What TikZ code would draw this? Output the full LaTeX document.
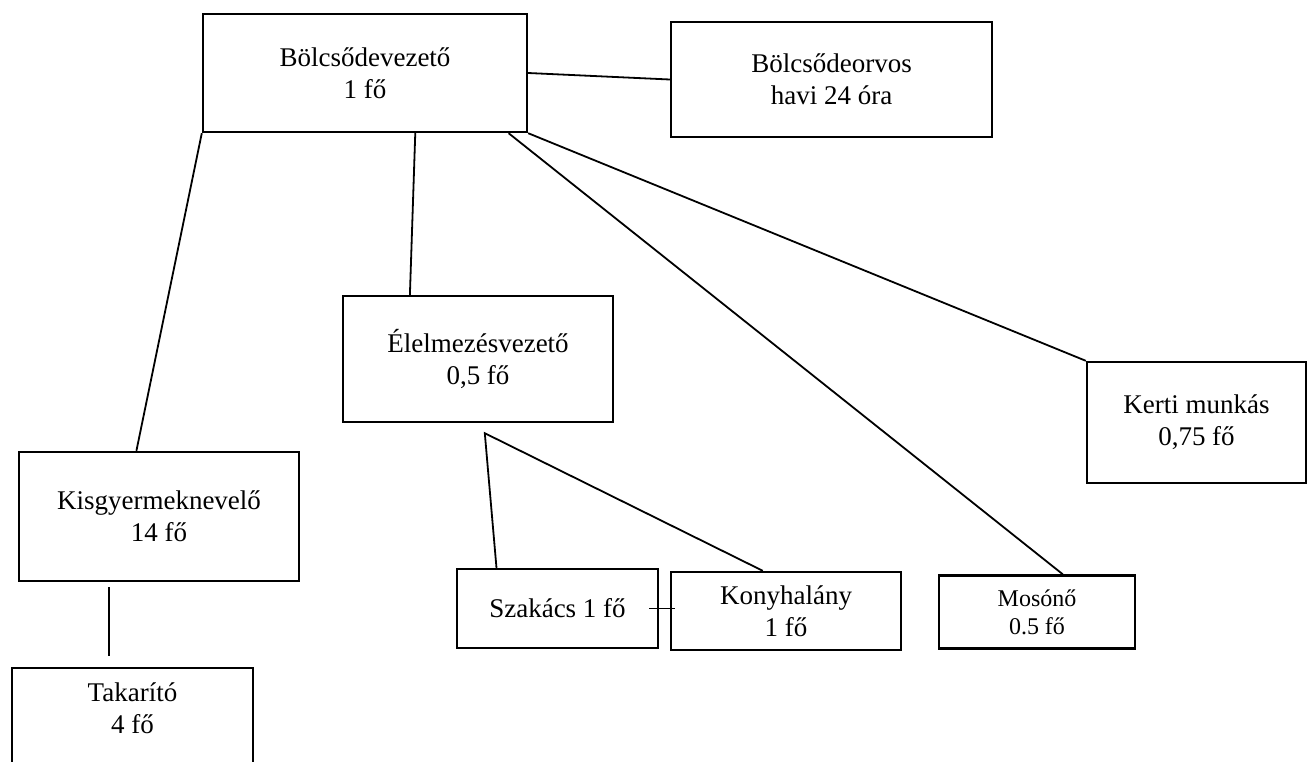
\documentclass[tikz,border=0pt]{standalone}
\usepackage{fontspec}
\setmainfont{Liberation Serif}
\usepackage{tikz}
\usetikzlibrary{positioning,calc}
\tikzset{
  staff/.style={draw, line width=1.2pt, rectangle, inner sep=0pt, align=center, font=\fontsize{13.5}{16}\selectfont},
  small/.style={staff, font=\fontsize{12}{14}\selectfont},
  link/.style={line width=0.9pt},
}

\begin{document}
\begin{tikzpicture}[x=0.5pt, y=-0.5pt]
    \fill[white] (0,0) rectangle (1307,761);
    \useasboundingbox (0,0) rectangle (1307,761);

    % top level
    \node[staff, minimum width=162pt, minimum height=59pt] (vezeto) at (365,73) {Bölcsődevezető\\1 fő};
    \node[staff, minimum width=160.5pt, minimum height=57.5pt] (orvos) at (831.5,79.5) {Bölcsődeorvos\\havi 24 óra};

    % second level
    \node[staff, minimum width=135pt, minimum height=63pt] (elelm) at (478,359) {Élelmezésvezető\\0,5 fő};
    \node[staff, minimum width=140pt, minimum height=64.5pt] (kisgy) at (159,516.5) {Kisgyermeknevelő\\14 fő};
    \node[staff, minimum width=109.5pt, minimum height=60.5pt] (kerti) at (1196.5,422.5) {Kerti munkás\\0,75 fő};
    \node[small, minimum width=98pt, minimum height=36.5pt] (moso) at (1037,612) {Mosónő\\0.5 fő};

    % third level, runs off the bottom edge
    \node[staff, anchor=north, minimum width=120.5pt, inner ysep=7.5pt, text depth=40pt] (takar) at (132.5,667) {Takarító\\4 fő};
    \node[staff, minimum width=100.5pt, minimum height=39.5pt] (szakacs) at (557.5,608.5) {Szakács 1 fő};
    \node[staff, minimum width=115pt, minimum height=39pt] (konyha) at (786,611) {Konyhalány\\1 fő};

    % free ends
    \coordinate (kt1) at ($(kisgy.south west)+(91,5)$);
    \coordinate (kt2) at ($(takar.north west)+(98,-11)$);
    \coordinate (apex) at ($(elelm.south west)+(143,10)$);
    \coordinate (sk) at ($(szakacs.east)+(-10,0)$);

    \draw[link] (vezeto.east) -- (orvos.west);
    \draw[link] (vezeto.south west) -- ($(kisgy.north west)!0.42!(kisgy.north east)$);
    \draw[link] ($(vezeto.south west)!0.654!(vezeto.south east)$) -- ($(elelm.north west)!0.25!(elelm.north east)$);
    \draw[link] ($(vezeto.south west)!0.94!(vezeto.south east)$) -- ($(moso.north west)!0.63!(moso.north east)$);
    \draw[link] (vezeto.south east) -- (kerti.north west);
    \draw[link] (kt1) -- (kt2);
    \draw[link] ($(szakacs.north west)!0.2!(szakacs.north east)$) -- (apex) -- ($(konyha.north west)!0.4!(konyha.north east)$);
    \draw[link] (sk) -- ($(sk -| konyha.west)+(5,0)$);

\end{tikzpicture}
\end{document}
